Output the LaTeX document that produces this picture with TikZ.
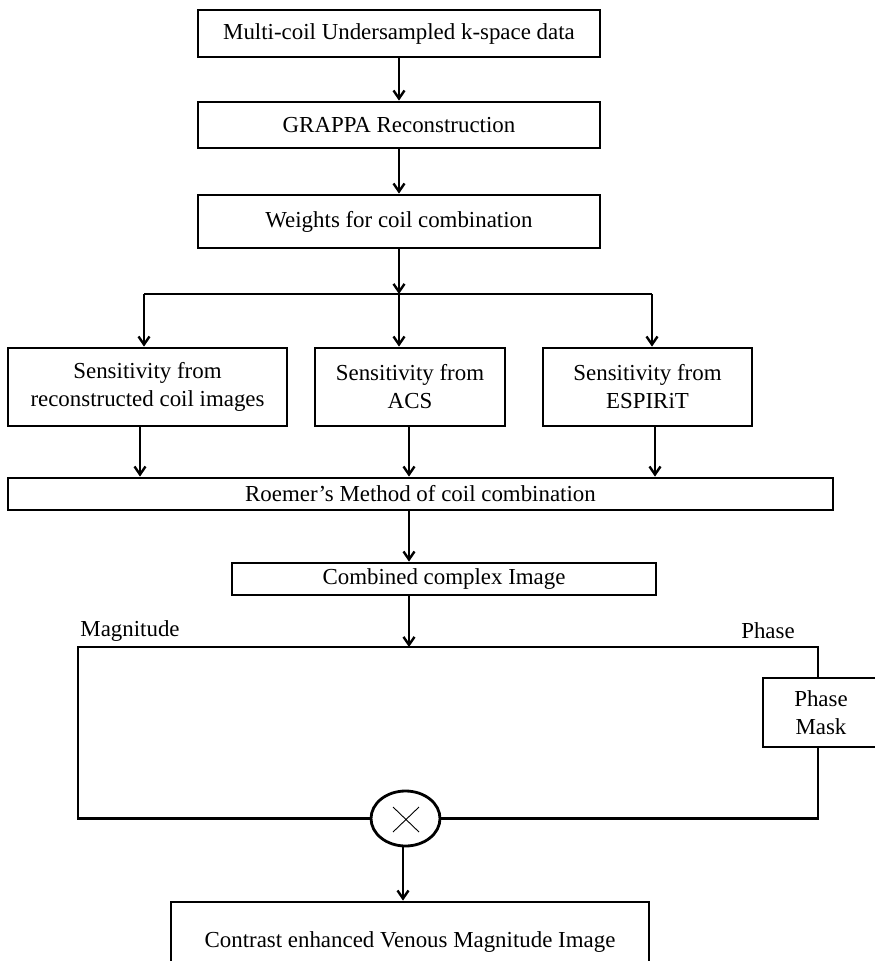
\documentclass[tikz,border=0pt]{standalone}
\usepackage{fontspec}
\setmainfont{Liberation Serif}
\usetikzlibrary{arrows.meta,shapes.geometric}
\begin{document}
\begin{tikzpicture}[x=1pt,y=-1pt,
  txt/.style={font=\fontsize{22.9}{28}\selectfont},
  box/.style={draw,line width=2.8pt,rectangle,inner sep=0pt,align=center,txt},
  arr/.style={line width=2.4pt,-{Straight Barb[length=8pt,width=11pt]}},
  ln/.style={line width=2.4pt},
  lbl/.style={inner sep=0pt,txt}]
\useasboundingbox (0,0) rectangle (875,961);
% top chain
\node[box,minimum width=402pt,minimum height=47pt] (n1) at (399,33.5) {Multi-coil Undersampled k-space data};
\node[box,minimum width=402pt,minimum height=46pt] (n2) at (399,125) {GRAPPA Reconstruction};
\node[box,minimum width=402pt,minimum height=53pt] (n3) at (399,221.5) {Weights for coil combination};
\draw[arr] (n1) -- (n2);
\draw[arr] (n2) -- (n3);
% sensitivity boxes
\node[box,minimum width=279pt,minimum height=78pt] (sA) at (147.5,387) {Sensitivity from\\reconstructed coil images};
\node[box,minimum width=190pt,minimum height=78pt] (sB) at (410,387) {Sensitivity from\\ACS};
\node[box,minimum width=209pt,minimum height=78pt] (sC) at (647.5,387) {Sensitivity from\\ESPIRiT};
\coordinate (br) at (399,294);
\coordinate (brL) at (144,294);
\coordinate (brR) at (652,294);
\draw[arr] (n3.south) -- (br);
\draw[ln] (brL) -- (brR);
\draw[arr] (brL) -- (brL |- sA.north);
\draw[arr] (br) -- (br |- sB.north);
\draw[arr] (brR) -- (brR |- sC.north);
% Roemer
\node[box,minimum width=825pt,minimum height=32pt] (ro) at (420.5,494) {Roemer’s Method of coil combination};
\coordinate (ca) at (140,0);
\coordinate (cb) at (409,0);
\coordinate (cc) at (655,0);
\draw[arr] (ca |- sA.south) -- (ca |- ro.north);
\draw[arr] (cb |- sB.south) -- (cb |- ro.north);
\draw[arr] (cc |- sC.south) -- (cc |- ro.north);
% combined
\node[box,minimum width=424pt,minimum height=32pt] (cm) at (444,579) {Combined complex Image};
\draw[arr] (cb |- ro.south) -- (cb |- cm.north);
% loop
\coordinate (tl) at (78,647);
\coordinate (tr) at (818,647);
\coordinate (bl) at (78,818.5);
\coordinate (brr) at (818,818.5);
\draw[arr] (cb |- cm.south) -- (cb |- tl);
\node[lbl] (mag) at (130,631) {Magnitude};
\node[lbl] (pha) at (768,631) {Phase};
\node[box,minimum width=116pt,minimum height=69pt] (pm) at (821,712.5) {Phase\\Mask};
\node[draw,ellipse,line width=2.8pt,minimum width=69pt,minimum height=55pt,inner sep=0pt] (ci) at (405.5,818.5) {};
\draw[line width=0.9pt] (393,807) -- (419,832) (393,832) -- (419,807);
\draw[ln] (pm.north -| tr) -- (tr) -- (tl) -- (bl) -- (ci.west);
\draw[ln] (pm.south -| tr) -- (brr) -- (ci.east);
% bottom
\node[box,minimum width=478pt,minimum height=80pt] (bt) at (410,942) {Contrast enhanced Venous Magnitude Image};
\coordinate (cd) at (403,0);
\draw[arr] (cd |- ci.south) -- (cd |- bt.north);
\end{tikzpicture}
\end{document}
